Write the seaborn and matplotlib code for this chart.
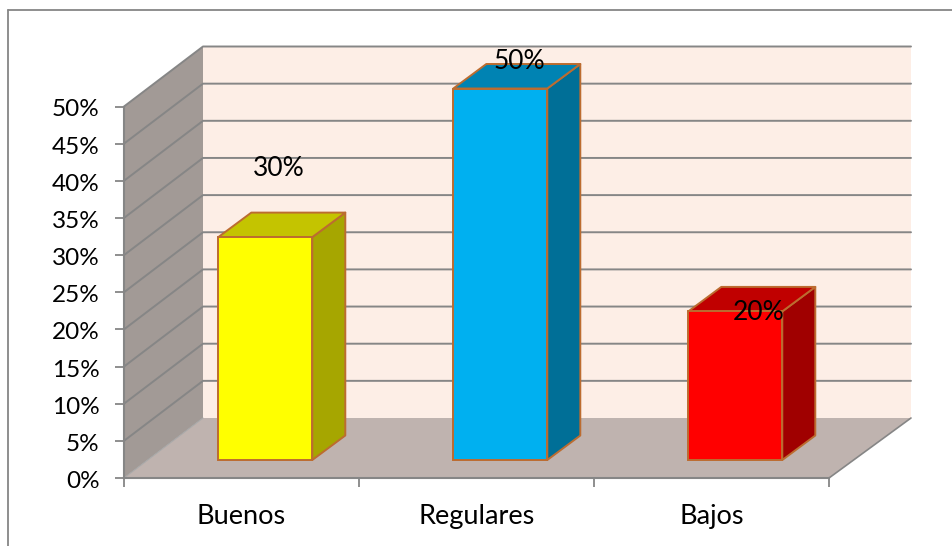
import matplotlib
matplotlib.use("Agg")
import matplotlib.pyplot as plt
from matplotlib.lines import Line2D
from matplotlib.patches import Polygon
from matplotlib.ticker import PercentFormatter
from matplotlib.transforms import Affine2D
import numpy as np
import pandas as pd
import seaborn as sns

categories = ["Buenos", "Regulares", "Bajos"]
values = [30, 50, 20]
tick_values = list(range(0, 55, 5))

front_colors = ["#FFFF00", "#00B0F0", "#FF0000"]
side_colors = ["#A6A600", "#006F97", "#A00000"]
top_colors = ["#C4C400", "#0083B3", "#C00000"]
label_offsets_px = [(37, 86.5), (42.5, 45), (47.5, 17)]

EDGE = "#BC6C30"
GRID = "#868686"
WALL = "#A29A96"
FLOOR = "#BFB3AF"
BACK = "#FDEEE6"
W, H, DPI = 953, 546, 100

sns.set_theme(style="white")
plt.rcParams["font.family"] = ["Lato", "DejaVu Sans"]

fig = plt.figure(figsize=(W / DPI, H / DPI), dpi=DPI, facecolor="white")
ax = fig.add_axes([124 / W, 1 - 478 / H, 705 / W, 371.5 / H])
df = pd.DataFrame({"cat": categories, "val": values})
sns.barplot(data=df, x="cat", y="val", hue="cat", palette=front_colors, width=0.4,
            saturation=1, legend=False, ax=ax, edgecolor=EDGE, linewidth=1.4)
ax.set_xlim(-0.5, 2.5)
ax.set_ylim(0, 50)
ax.patch.set_alpha(0)

# conversions from pixels to data units (projection of the 3-D box)
ux = 705 / 3
uy = 371.5 / 50
wall_dx, wall_dy = 79 / ux, 60 / uy
wall_right_dx = 82 / ux
bar_dx, bar_dy = 33 / ux, 24.5 / uy
bar_shift_x, bar_shift_y = 23.8 / ux, 18 / uy

# walls and floor
ax.add_patch(Polygon([(-0.5 + wall_dx, wall_dy), (2.5 + wall_right_dx, wall_dy),
                      (2.5 + wall_right_dx, 50 + wall_dy), (-0.5 + wall_dx, 50 + wall_dy)],
                     fc=BACK, ec="none", clip_on=False, zorder=0.1))
ax.add_patch(Polygon([(-0.5, 0), (-0.5 + wall_dx, wall_dy),
                      (-0.5 + wall_dx, 50 + wall_dy), (-0.5, 50)],
                     fc=WALL, ec="none", clip_on=False, zorder=0.2))
ax.add_patch(Polygon([(-0.5, 0), (2.5, 0), (2.5 + wall_right_dx, wall_dy), (-0.5 + wall_dx, wall_dy)],
                     fc=FLOOR, ec="none", clip_on=False, zorder=0.3))

# gridlines
for t in tick_values:
    col, lw = (GRID, 1.4) if t > 0 else ("#A8A8A8", 0.8)
    ax.add_line(Line2D([-0.5, -0.5 + wall_dx, 2.5 + wall_right_dx] if t > 0 else [-0.5, -0.5 + wall_dx],
                       [t, t + wall_dy, t + wall_dy] if t > 0 else [t, t + wall_dy],
                       color=col, lw=lw, clip_on=False, zorder=0.5))
ax.add_line(Line2D([2.5, 2.5 + wall_right_dx], [0, wall_dy], color=GRID, lw=1.2,
                   clip_on=False, zorder=0.5))

# bars: front face from seaborn, sides and tops derived from it
for i, bar in enumerate(ax.patches[:]):
    if i >= len(values):
        break
    bar.set_x(bar.get_x() + bar_shift_x)
    bar.set_y(bar_shift_y)
    bar.set_zorder(3)
    bar.set_clip_on(False)
    x0, x1 = bar.get_x(), bar.get_x() + bar.get_width()
    y0, y1 = bar.get_y(), bar.get_y() + bar.get_height()
    ax.add_patch(Polygon([(x1, y0), (x1 + bar_dx, y0 + bar_dy), (x1 + bar_dx, y1 + bar_dy), (x1, y1)],
                         fc=side_colors[i], ec=EDGE, lw=1.4, clip_on=False, zorder=2.5, joinstyle="round"))
    ax.add_patch(Polygon([(x0, y1), (x1, y1), (x1 + bar_dx, y1 + bar_dy), (x0 + bar_dx, y1 + bar_dy)],
                         fc=top_colors[i], ec=EDGE, lw=1.4, clip_on=False, zorder=2.5, joinstyle="round"))

# axes
sns.despine(ax=ax, top=True, right=True)
for s in ("left", "bottom"):
    ax.spines[s].set_color(GRID)
    ax.spines[s].set_linewidth(1.5)
    ax.spines[s].set_zorder(1)
ax.set_xlabel("")
ax.set_ylabel("")
ax.set_yticks(tick_values)
ax.yaxis.set_major_formatter(PercentFormatter(100, decimals=0))
ax.tick_params(axis="y", left=True, length=6.5, width=1.3, color=GRID, pad=11,
               labelsize=17.5, labelcolor="black")
ax.set_xticks(np.arange(-0.5, 3, 1))
ax.set_xticklabels([])
ax.set_xticks(range(3), labels=categories, minor=True)
ax.tick_params(axis="x", which="major", bottom=True, length=6.5, width=1.3, color=GRID)
ax.tick_params(axis="x", which="minor", bottom=False, length=0, pad=19,
               labelsize=19.5, labelcolor="black")
for lab in ax.get_yticklabels():
    lab.set_transform(lab.get_transform() + Affine2D().translate(0, -1.5))

# data labels
for i, v in enumerate(values):
    ax.annotate(f"{v}%", xy=(i, v), xytext=label_offsets_px[i], textcoords="offset pixels",
                ha="center", va="center", fontsize=19, color="black", zorder=5,
                annotation_clip=False)

# chart frame: only the top and left edges are inside the picture
fig.add_artist(Line2D([8 / W, 1], [1 - 9.5 / H, 1 - 9.5 / H], color=GRID, lw=1.3))
fig.add_artist(Line2D([8.5 / W, 8.5 / W], [0, 1 - 9.5 / H], color=GRID, lw=1.3))

fig.savefig("out.png", dpi=DPI, facecolor="white")
